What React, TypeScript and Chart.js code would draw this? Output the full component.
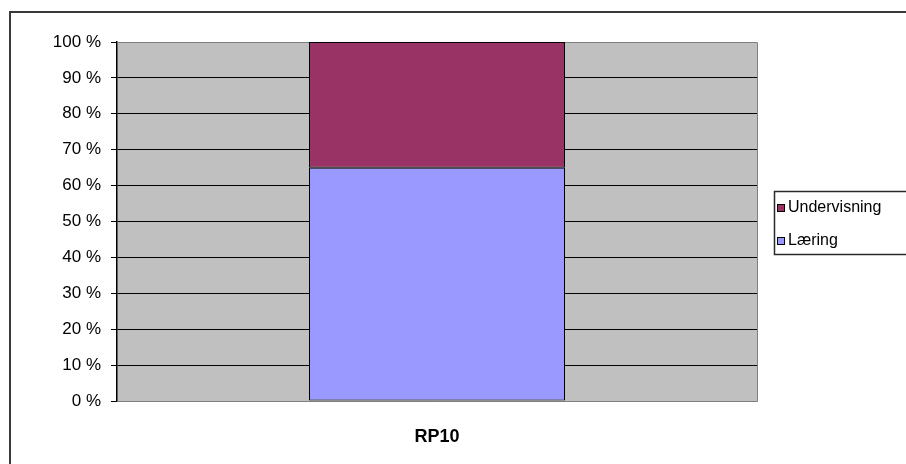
import React, { useEffect, useRef } from "react";
import { Chart, registerables } from "chart.js";

Chart.register(...registerables);

// Data
const categories = ["RP10"];
const seriesNames = ["Læring", "Undervisning"];
const laeringValues = [65];
const undervisningValues = [35];
const seriesColors = ["#9999FF", "#993366"];
const yTickValues = [0, 10, 20, 30, 40, 50, 60, 70, 80, 90, 100];

const FONT = "'Liberation Sans', Arial, sans-serif";

// Gray plot background, plot frame and outer chart border
const framePlugin = {
  id: "frame",
  beforeDraw(chart: any) {
    const { ctx, chartArea: a } = chart;
    ctx.save();
    ctx.fillStyle = "#C0C0C0";
    ctx.fillRect(a.left, a.top, a.right - a.left, a.bottom - a.top);
    ctx.restore();
  },
  beforeDatasetsDraw(chart: any) {
    const { ctx, chartArea: a } = chart;
    ctx.save();
    ctx.strokeStyle = "#808080";
    ctx.lineWidth = 1;
    ctx.beginPath();
    ctx.moveTo(a.left, a.top + 0.5);
    ctx.lineTo(a.right + 0.5, a.top + 0.5);
    ctx.lineTo(a.right + 0.5, a.bottom + 0.5);
    ctx.lineTo(a.left, a.bottom + 0.5);
    ctx.stroke();
    ctx.restore();
  },
  afterDraw(chart: any) {
    const { ctx } = chart;
    ctx.save();
    ctx.strokeStyle = "#3a3a3a";
    ctx.lineWidth = 2;
    ctx.beginPath();
    ctx.moveTo(10, chart.height + 2);
    ctx.lineTo(10, 12);
    ctx.lineTo(chart.width + 2, 12);
    ctx.stroke();
    ctx.restore();
  },
};

// Boxed legend on the right, listing the top series first
const boxLegendPlugin = {
  id: "boxLegend",
  afterDraw(chart: any) {
    const { ctx } = chart;
    const ds = chart.data.datasets.slice().reverse();
    const x = 774;
    const y = 191;
    const w = 140;
    const h = 63;
    ctx.save();
    ctx.fillStyle = "#ffffff";
    ctx.fillRect(x, y, w, h);
    ctx.strokeStyle = "#2a2a2a";
    ctx.lineWidth = 1.5;
    ctx.strokeRect(x + 0.5, y + 0.5, w, h);
    ctx.font = `16px ${FONT}`;
    ctx.textBaseline = "middle";
    ds.forEach((d: any, i: number) => {
      const cy = 208 + i * 33;
      ctx.fillStyle = d.backgroundColor;
      ctx.fillRect(777, cy - 4, 8, 8);
      ctx.strokeStyle = "#000";
      ctx.lineWidth = 1;
      ctx.strokeRect(777.5, cy - 3.5, 7, 7);
      ctx.fillStyle = "#000";
      ctx.fillText(d.label, 788, cy);
    });
    ctx.restore();
  },
};

export default function App() {
  const ref = useRef<HTMLCanvasElement>(null);

  useEffect(() => {
    if (!ref.current) return;
    const chart = new Chart(ref.current, {
      type: "bar",
      data: {
        labels: categories,
        datasets: [
          {
            label: seriesNames[0],
            data: laeringValues,
            backgroundColor: seriesColors[0],
            borderColor: "#000",
            borderWidth: 1,
            borderSkipped: false,
          },
          {
            label: seriesNames[1],
            data: undervisningValues,
            backgroundColor: seriesColors[1],
            borderColor: "#000",
            borderWidth: 1,
            borderSkipped: false,
          },
        ],
      },
      options: {
        animation: false,
        responsive: false,
        layout: { padding: { left: 0, top: 42, right: 149, bottom: 0 } },
        plugins: {
          legend: { display: false },
          tooltip: { enabled: false },
        },
        datasets: {
          bar: { categoryPercentage: 1, barPercentage: 0.4 },
        },
        scales: {
          x: {
            stacked: true,
            grid: { display: false, drawTicks: false },
            border: { display: false },
            ticks: {
              color: "#000",
              padding: 25,
              font: { family: FONT, size: 18, weight: "bold" },
            },
            afterFit(scale: any) {
              scale.height = 63;
            },
          },
          y: {
            stacked: true,
            min: 0,
            max: 100,
            afterBuildTicks(scale: any) {
              scale.ticks = yTickValues.map((v) => ({ value: v }));
            },
            grid: {
              color: (c: any) =>
                c.tick && (c.tick.value === 0 || c.tick.value === 100) ? "#808080" : "#000",
              tickColor: "#000",
              tickLength: 6,
              lineWidth: 1,
            },
            border: { display: true, color: "#000", width: 1.5 },
            ticks: {
              color: "#000",
              padding: 10,
              font: { family: FONT, size: 17 },
              callback: (v: any) => `${v} %`,
            },
            afterFit(scale: any) {
              scale.width = 117;
            },
          },
        },
      },
      plugins: [framePlugin, boxLegendPlugin],
    });
    return () => chart.destroy();
  }, []);

  return (
    <div style={{ position: "fixed", left: 0, top: 0, width: 906, height: 464, background: "#fff" }}>
      <canvas ref={ref} width={906} height={464} style={{ display: "block" }} />
    </div>
  );
}
